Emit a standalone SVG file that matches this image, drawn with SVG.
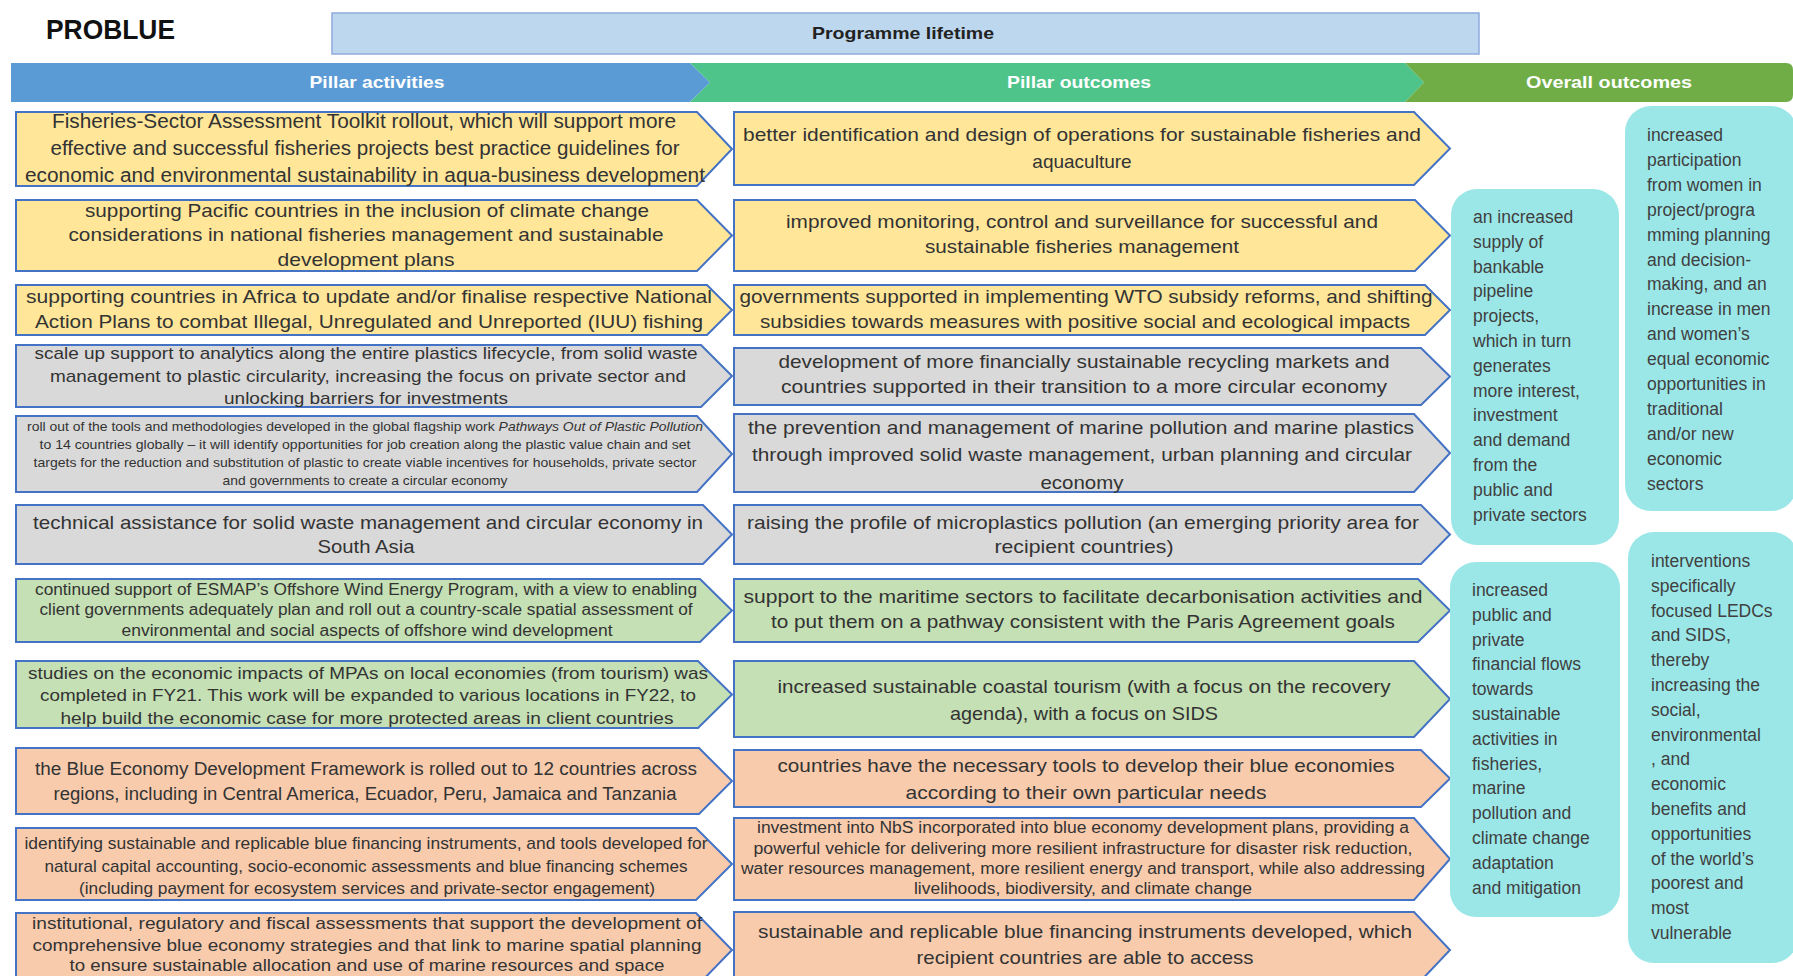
<svg xmlns="http://www.w3.org/2000/svg" width="1793" height="976" viewBox="0 0 1793 976">
<style>
text{font-family:"Liberation Sans",Arial,sans-serif}
.t{fill:#333;text-anchor:middle}
.f20{font-size:20px}.f19{font-size:19px}.f18{font-size:18px}.f17{font-size:17px}.f16{font-size:16px}.f13{font-size:13px}
.y{fill:#ffe699;stroke:#4472c4;stroke-width:2}
.g{fill:#d9d9d9;stroke:#4472c4;stroke-width:2}
.gr{fill:#c5e0b4;stroke:#4472c4;stroke-width:2}
.o{fill:#f8cbad;stroke:#4472c4;stroke-width:2}
.cy{fill:#9be7e8}
.ct{fill:#404040;font-size:17.5px}
.h{fill:#fff;font-size:17px;font-weight:bold;text-anchor:middle}
</style>

<g id="title">
<text x="46" y="39" font-size="28" font-weight="bold" fill="#111" textLength="129" lengthAdjust="spacingAndGlyphs">PROBLUE</text>
</g>

<g id="programme-lifetime">
<rect x="332" y="13" width="1147" height="41" fill="#bdd7ee" stroke="#8eaadb" stroke-width="1.5"/>
<text x="903" y="39" font-size="17" font-weight="bold" fill="#222" text-anchor="middle" textLength="182" lengthAdjust="spacingAndGlyphs">Programme lifetime</text>
</g>

<g id="header-pillar-activities">
<polygon points="11,63 690,63 710,82.5 690,102 11,102" fill="#5b9bd5"/>
<text class="h" x="377" y="88" textLength="135" lengthAdjust="spacingAndGlyphs">Pillar activities</text>
</g>
<g id="header-pillar-outcomes">
<polygon points="690,63 1405,63 1424,82.5 1405,102 690,102 710,82.5" fill="#4ec48b"/>
<text class="h" x="1079" y="88" textLength="144" lengthAdjust="spacingAndGlyphs">Pillar outcomes</text>
</g>
<g id="header-overall-outcomes">
<path d="M1405,63 H1786 Q1793,63 1793,70 V95 Q1793,102 1786,102 H1405 L1424,82.5 Z" fill="#70ad47"/>
<text class="h" x="1609" y="88" textLength="166" lengthAdjust="spacingAndGlyphs">Overall outcomes</text>
</g>

<g id="connectors"></g>

<!-- Left column: pillar activities -->
<g id="act1">
<polygon class="y" points="16,112 697,112 732,149 697,186 16,186"/>
<text class="t f20" x="364" y="128" textLength="624" lengthAdjust="spacingAndGlyphs">Fisheries-Sector Assessment Toolkit rollout, which will support more</text>
<text class="t f20" x="365" y="155" textLength="629" lengthAdjust="spacingAndGlyphs">effective and successful fisheries projects best practice guidelines for</text>
<text class="t f20" x="365" y="182" textLength="680" lengthAdjust="spacingAndGlyphs">economic and environmental sustainability in aqua-business development</text>
</g>
<g id="act2">
<polygon class="y" points="16,200 697,200 732,235.5 697,271 16,271"/>
<text class="t f19" x="367" y="217" textLength="564" lengthAdjust="spacingAndGlyphs">supporting Pacific countries in the inclusion of climate change</text>
<text class="t f19" x="366" y="241" textLength="595" lengthAdjust="spacingAndGlyphs">considerations in national fisheries management and sustainable</text>
<text class="t f19" x="366" y="266" textLength="177" lengthAdjust="spacingAndGlyphs">development plans</text>
</g>
<g id="act3">
<polygon class="y" points="16,285 707,285 732,310 707,335 16,335"/>
<text class="t f19" x="369" y="303" textLength="686" lengthAdjust="spacingAndGlyphs">supporting countries in Africa to update and/or finalise respective National</text>
<text class="t f19" x="369" y="328" textLength="668" lengthAdjust="spacingAndGlyphs">Action Plans to combat Illegal, Unregulated and Unreported (IUU) fishing</text>
</g>
<g id="act4">
<polygon class="g" points="16,345 701,345 732,376 701,407 16,407"/>
<text class="t f17" x="366" y="359" textLength="663" lengthAdjust="spacingAndGlyphs">scale up support to analytics along the entire plastics lifecycle, from solid waste</text>
<text class="t f17" x="368" y="382" textLength="636" lengthAdjust="spacingAndGlyphs">management to plastic circularity, increasing the focus on private sector and</text>
<text class="t f17" x="366" y="404" textLength="284" lengthAdjust="spacingAndGlyphs">unlocking barriers for investments</text>
</g>
<g id="act5">
<polygon class="g" points="16,416 697,416 732,454 697,492 16,492"/>
<text class="t f13" x="365" y="431" textLength="676" lengthAdjust="spacingAndGlyphs">roll out of the tools and methodologies developed in the global flagship work <tspan font-style="italic">Pathways Out of Plastic Pollution</tspan></text>
<text class="t f13" x="365" y="449" textLength="651" lengthAdjust="spacingAndGlyphs">to 14 countries globally – it will identify opportunities for job creation along the plastic value chain and set</text>
<text class="t f13" x="365" y="467" textLength="663" lengthAdjust="spacingAndGlyphs">targets for the reduction and substitution of plastic to create viable incentives for households, private sector</text>
<text class="t f13" x="365" y="485" textLength="285" lengthAdjust="spacingAndGlyphs">and governments to create a circular economy</text>
</g>
<g id="act6">
<polygon class="g" points="16,505 703,505 732,534.5 703,564 16,564"/>
<text class="t f19" x="368" y="529" textLength="670" lengthAdjust="spacingAndGlyphs">technical assistance for solid waste management and circular economy in</text>
<text class="t f19" x="366" y="553" textLength="97" lengthAdjust="spacingAndGlyphs">South Asia</text>
</g>
<g id="act7">
<polygon class="gr" points="16,579 700,579 732,610.5 700,642 16,642"/>
<text class="t f16" x="366" y="595" textLength="662" lengthAdjust="spacingAndGlyphs">continued support of ESMAP’s Offshore Wind Energy Program, with a view to enabling</text>
<text class="t f16" x="366" y="615" textLength="653" lengthAdjust="spacingAndGlyphs">client governments adequately plan and roll out a country-scale spatial assessment of</text>
<text class="t f16" x="367" y="636" textLength="491" lengthAdjust="spacingAndGlyphs">environmental and social aspects of offshore wind development</text>
</g>
<g id="act8">
<polygon class="gr" points="16,661 698,661 732,694.5 698,728 16,728"/>
<text class="t f17" x="368" y="679" textLength="680" lengthAdjust="spacingAndGlyphs">studies on the economic impacts of MPAs on local economies (from tourism) was</text>
<text class="t f17" x="368" y="701" textLength="656" lengthAdjust="spacingAndGlyphs">completed in FY21. This work will be expanded to various locations in FY22, to</text>
<text class="t f17" x="367" y="724" textLength="613" lengthAdjust="spacingAndGlyphs">help build the economic case for more protected areas in client countries</text>
</g>
<g id="act9">
<polygon class="o" points="16,748 699,748 732,781 699,814 16,814"/>
<text class="t f18" x="366" y="775" textLength="662" lengthAdjust="spacingAndGlyphs">the Blue Economy Development Framework is rolled out to 12 countries across</text>
<text class="t f18" x="365" y="800" textLength="623" lengthAdjust="spacingAndGlyphs">regions, including in Central America, Ecuador, Peru, Jamaica and Tanzania</text>
</g>
<g id="act10">
<polygon class="o" points="16,828 696,828 732,864 696,900 16,900"/>
<text class="t f17" x="366" y="849" textLength="683" lengthAdjust="spacingAndGlyphs">identifying sustainable and replicable blue financing instruments, and tools developed for</text>
<text class="t f17" x="366" y="872" textLength="643" lengthAdjust="spacingAndGlyphs">natural capital accounting, socio-economic assessments and blue financing schemes</text>
<text class="t f17" x="367" y="894" textLength="576" lengthAdjust="spacingAndGlyphs">(including payment for ecosystem services and private-sector engagement)</text>
</g>
<g id="act11">
<polygon class="o" points="16,913 696,913 732,950 696,987 16,987"/>
<text class="t f17" x="367" y="929" textLength="670" lengthAdjust="spacingAndGlyphs">institutional, regulatory and fiscal assessments that support the development of</text>
<text class="t f17" x="367" y="951" textLength="669" lengthAdjust="spacingAndGlyphs">comprehensive blue economy strategies and that link to marine spatial planning</text>
<text class="t f17" x="367" y="971" textLength="595" lengthAdjust="spacingAndGlyphs">to ensure sustainable allocation and use of marine resources and space</text>
</g>

<!-- Middle column: pillar outcomes -->
<g id="out1">
<polygon class="y" points="734,112 1414,112 1450,148.5 1414,185 734,185"/>
<text class="t f19" x="1082" y="141" textLength="678" lengthAdjust="spacingAndGlyphs">better identification and design of operations for sustainable fisheries and</text>
<text class="t f19" x="1082" y="168">aquaculture</text>
</g>
<g id="out2">
<polygon class="y" points="734,200 1415,200 1450,235.5 1415,271 734,271"/>
<text class="t f19" x="1082" y="228" textLength="592" lengthAdjust="spacingAndGlyphs">improved monitoring, control and surveillance for successful and</text>
<text class="t f19" x="1082" y="253" textLength="314" lengthAdjust="spacingAndGlyphs">sustainable fisheries management</text>
</g>
<g id="out3">
<polygon class="y" points="734,285 1425,285 1450,310 1425,335 734,335"/>
<text class="t f19" x="1086" y="303" textLength="693" lengthAdjust="spacingAndGlyphs">governments supported in implementing WTO subsidy reforms, and shifting</text>
<text class="t f19" x="1085" y="328" textLength="650" lengthAdjust="spacingAndGlyphs">subsidies towards measures with positive social and ecological impacts</text>
</g>
<g id="out4">
<polygon class="g" points="734,348 1421,348 1450,376.5 1421,405 734,405"/>
<text class="t f19" x="1084" y="368" textLength="611" lengthAdjust="spacingAndGlyphs">development of more financially sustainable recycling markets and</text>
<text class="t f19" x="1084" y="393" textLength="606" lengthAdjust="spacingAndGlyphs">countries supported in their transition to a more circular economy</text>
</g>
<g id="out5">
<polygon class="g" points="734,414 1414,414 1450,453 1414,492 734,492"/>
<text class="t f19" x="1081" y="434" textLength="666" lengthAdjust="spacingAndGlyphs">the prevention and management of marine pollution and marine plastics</text>
<text class="t f19" x="1082" y="461" textLength="660" lengthAdjust="spacingAndGlyphs">through improved solid waste management, urban planning and circular</text>
<text class="t f19" x="1082" y="489" textLength="83" lengthAdjust="spacingAndGlyphs">economy</text>
</g>
<g id="out6">
<polygon class="g" points="734,505 1421,505 1450,534.5 1421,564 734,564"/>
<text class="t f19" x="1083" y="529" textLength="672" lengthAdjust="spacingAndGlyphs">raising the profile of microplastics pollution (an emerging priority area for</text>
<text class="t f19" x="1084" y="553" textLength="179" lengthAdjust="spacingAndGlyphs">recipient countries)</text>
</g>
<g id="out7">
<polygon class="gr" points="734,579 1418,579 1450,610.5 1418,642 734,642"/>
<text class="t f19" x="1083" y="603" textLength="679" lengthAdjust="spacingAndGlyphs">support to the maritime sectors to facilitate decarbonisation activities and</text>
<text class="t f19" x="1083" y="628" textLength="624" lengthAdjust="spacingAndGlyphs">to put them on a pathway consistent with the Paris Agreement goals</text>
</g>
<g id="out8">
<polygon class="gr" points="734,661 1414,661 1450,699 1414,737 734,737"/>
<text class="t f19" x="1084" y="693" textLength="613" lengthAdjust="spacingAndGlyphs">increased sustainable coastal tourism (with a focus on the recovery</text>
<text class="t f19" x="1084" y="720" textLength="268" lengthAdjust="spacingAndGlyphs">agenda), with a focus on SIDS</text>
</g>
<g id="out9">
<polygon class="o" points="734,750 1421,750 1450,778.5 1421,807 734,807"/>
<text class="t f19" x="1086" y="772" textLength="617" lengthAdjust="spacingAndGlyphs">countries have the necessary tools to develop their blue economies</text>
<text class="t f19" x="1086" y="799" textLength="361" lengthAdjust="spacingAndGlyphs">according to their own particular needs</text>
</g>
<g id="out10">
<polygon class="o" points="734,818 1414,818 1450,859 1414,900 734,900"/>
<text class="t f16" x="1083" y="833" textLength="652" lengthAdjust="spacingAndGlyphs">investment into NbS incorporated into blue economy development plans, providing a</text>
<text class="t f16" x="1083" y="854" textLength="659" lengthAdjust="spacingAndGlyphs">powerful vehicle for delivering more resilient infrastructure for disaster risk reduction,</text>
<text class="t f16" x="1083" y="874" textLength="684" lengthAdjust="spacingAndGlyphs">water resources management, more resilient energy and transport, while also addressing</text>
<text class="t f16" x="1083" y="894" textLength="338" lengthAdjust="spacingAndGlyphs">livelihoods, biodiversity, and climate change</text>
</g>
<g id="out11">
<polygon class="o" points="734,912 1414,912 1450,950 1414,988 734,988"/>
<text class="t f19" x="1085" y="938" textLength="654" lengthAdjust="spacingAndGlyphs">sustainable and replicable blue financing instruments developed, which</text>
<text class="t f19" x="1085" y="964" textLength="337" lengthAdjust="spacingAndGlyphs">recipient countries are able to access</text>
</g>

<!-- Overall outcomes -->
<g id="overall-a">
<rect class="cy" x="1451" y="189" width="168" height="356" rx="26"/>
<text class="ct" x="1473" y="223"><tspan x="1473">an increased</tspan><tspan x="1473" dy="24.8">supply of</tspan><tspan x="1473" dy="24.8">bankable</tspan><tspan x="1473" dy="24.8">pipeline</tspan><tspan x="1473" dy="24.8">projects,</tspan><tspan x="1473" dy="24.8">which in turn</tspan><tspan x="1473" dy="24.8">generates</tspan><tspan x="1473" dy="24.8">more interest,</tspan><tspan x="1473" dy="24.8">investment</tspan><tspan x="1473" dy="24.8">and demand</tspan><tspan x="1473" dy="24.8">from the</tspan><tspan x="1473" dy="24.8">public and</tspan><tspan x="1473" dy="24.8">private sectors</tspan></text>
</g>
<g id="overall-b">
<rect class="cy" x="1625" y="106" width="172" height="405" rx="26"/>
<text class="ct" x="1647" y="141"><tspan x="1647">increased</tspan><tspan x="1647" dy="24.9">participation</tspan><tspan x="1647" dy="24.9">from women in</tspan><tspan x="1647" dy="24.9">project/progra</tspan><tspan x="1647" dy="24.9">mming planning</tspan><tspan x="1647" dy="24.9">and decision-</tspan><tspan x="1647" dy="24.9">making, and an</tspan><tspan x="1647" dy="24.9">increase in men</tspan><tspan x="1647" dy="24.9">and women’s</tspan><tspan x="1647" dy="24.9">equal economic</tspan><tspan x="1647" dy="24.9">opportunities in</tspan><tspan x="1647" dy="24.9">traditional</tspan><tspan x="1647" dy="24.9">and/or new</tspan><tspan x="1647" dy="24.9">economic</tspan><tspan x="1647" dy="24.9">sectors</tspan></text>
</g>
<g id="overall-c">
<rect class="cy" x="1450" y="562" width="170" height="355" rx="26"/>
<text class="ct" x="1472" y="596"><tspan x="1472">increased</tspan><tspan x="1472" dy="24.8">public and</tspan><tspan x="1472" dy="24.8">private</tspan><tspan x="1472" dy="24.8">financial flows</tspan><tspan x="1472" dy="24.8">towards</tspan><tspan x="1472" dy="24.8">sustainable</tspan><tspan x="1472" dy="24.8">activities in</tspan><tspan x="1472" dy="24.8">fisheries,</tspan><tspan x="1472" dy="24.8">marine</tspan><tspan x="1472" dy="24.8">pollution and</tspan><tspan x="1472" dy="24.8">climate change</tspan><tspan x="1472" dy="24.8">adaptation</tspan><tspan x="1472" dy="24.8">and mitigation</tspan></text>
</g>
<g id="overall-d">
<rect class="cy" x="1628" y="532" width="170" height="431" rx="26"/>
<text class="ct" x="1651" y="567"><tspan x="1651">interventions</tspan><tspan x="1651" dy="24.8">specifically</tspan><tspan x="1651" dy="24.8">focused LEDCs</tspan><tspan x="1651" dy="24.8">and SIDS,</tspan><tspan x="1651" dy="24.8">thereby</tspan><tspan x="1651" dy="24.8">increasing the</tspan><tspan x="1651" dy="24.8">social,</tspan><tspan x="1651" dy="24.8">environmental</tspan><tspan x="1651" dy="24.8">, and</tspan><tspan x="1651" dy="24.8">economic</tspan><tspan x="1651" dy="24.8">benefits and</tspan><tspan x="1651" dy="24.8">opportunities</tspan><tspan x="1651" dy="24.8">of the world’s</tspan><tspan x="1651" dy="24.8">poorest and</tspan><tspan x="1651" dy="24.8">most</tspan><tspan x="1651" dy="24.8">vulnerable</tspan></text>
</g>
</svg>
